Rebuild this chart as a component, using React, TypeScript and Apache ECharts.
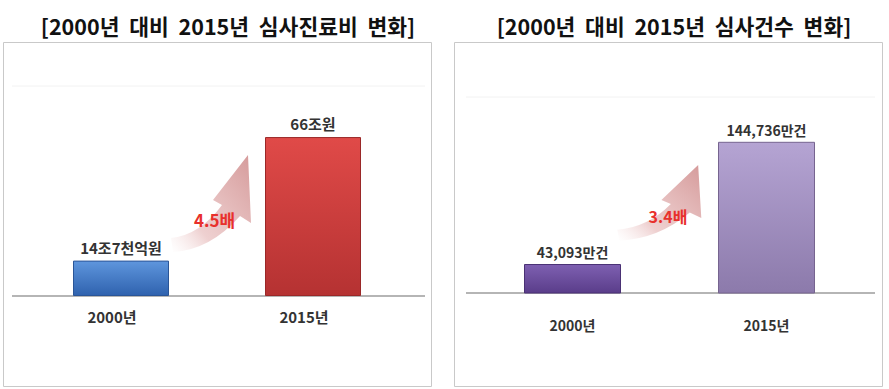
import React, { useEffect, useRef } from "react";
import * as echarts from "echarts";

const years = ["2000년", "2015년"];
const costValues = [14.7, 66]; // 조원
const costLabels = ["14조7천억원", "66조원"];
const countValues = [43093, 144736]; // 만건
const countLabels = ["43,093만건", "144,736만건"];
const titles = [
  "[2000년  대비  2015년  심사진료비  변화]",
  "[2000년  대비  2015년  심사건수  변화]",
];
const ratioLabels = ["4.5배", "3.4배"];

const FONT = '"Noto Sans CJK KR", "Noto Sans", sans-serif';

const ARROW_D =
  "M83 0 L86 68 L75 61 Q45 95 8 97 L6 83 Q35 80 57 50 L48 45 Z";

let registered = false;
function ensureShape() {
  if (registered) return;
  echarts.graphic.registerShape("arrowShape", echarts.graphic.extendPath(ARROW_D, {}) as any);
  registered = true;
}

function grad(top: string, bottom: string) {
  return new echarts.graphic.LinearGradient(0, 0, 0, 1, [
    { offset: 0, color: top },
    { offset: 1, color: bottom },
  ]);
}

function arrowFill() {
  return new echarts.graphic.LinearGradient(0, 1, 1, 0, [
    { offset: 0, color: "rgba(245,225,225,0)" },
    { offset: 0.3, color: "rgba(234,196,196,0.8)" },
    { offset: 1, color: "#d59a9a" },
  ]);
}

export default function App() {
  const ref = useRef<HTMLDivElement>(null);
  useEffect(() => {
    if (!ref.current) return;
    ensureShape();
    const chart = echarts.init(ref.current, undefined, { renderer: "svg" });
    const leftColors = [
      { color: grad("#5e96dd", "#2f62ae"), borderColor: "#2a5597" },
      { color: grad("#e04a48", "#b53232"), borderColor: "#9a2828" },
    ];
    const rightColors = [
      { color: grad("#7e60b1", "#5a3d8a"), borderColor: "#4a3174" },
      { color: grad("#b5a4d3", "#8c7aab"), borderColor: "#76648f" },
    ];
    chart.setOption({
      animation: false,
      backgroundColor: "#ffffff",
      title: [
        {
          text: titles[0],
          left: 223,
          top: 10,
          textAlign: "center",
          textStyle: { fontFamily: FONT, fontSize: 21.5, fontWeight: "bold", color: "#111" },
        },
        {
          text: titles[1],
          left: 669,
          top: 10,
          textAlign: "center",
          textStyle: { fontFamily: FONT, fontSize: 21.5, fontWeight: "bold", color: "#111" },
        },
      ],
      grid: [
        { left: 25, width: 384, top: 86, bottom: 93 },
        { left: 475.5, width: 388, top: 97, bottom: 96 },
      ],
      xAxis: [
        {
          type: "category",
          gridIndex: 0,
          data: years,
          axisLine: { show: false },
          axisTick: { show: false },
          axisLabel: {
            margin: 13,
            padding: [0, 18, 0, 0],
            fontFamily: FONT,
            fontSize: 15,
            fontWeight: "bold",
            color: "#333",
          },
        },
        {
          type: "category",
          gridIndex: 1,
          data: years,
          axisLine: { show: false },
          axisTick: { show: false },
          axisLabel: {
            margin: 25,
            fontFamily: FONT,
            fontSize: 14,
            fontWeight: "bold",
            color: "#333",
          },
        },
      ],
      yAxis: [
        { type: "value", gridIndex: 0, min: 0, max: 87.2, show: false, splitLine: { show: false } },
        { type: "value", gridIndex: 1, min: 19000, max: 182000, show: false, splitLine: { show: false } },
      ],
      series: [
        {
          type: "bar",
          xAxisIndex: 0,
          yAxisIndex: 0,
          barWidth: 96,
          data: costValues.map((v, i) => ({
            value: v,
            itemStyle: { ...leftColors[i], borderWidth: 1 },
          })),
          label: {
            show: true,
            position: "top",
            distance: 6,
            formatter: (p: any) => costLabels[p.dataIndex],
            fontFamily: FONT,
            fontSize: 15,
            fontWeight: "bold",
            color: "#333",
          },
          z: 3,
        },
        {
          type: "bar",
          xAxisIndex: 1,
          yAxisIndex: 1,
          barWidth: 97,
          data: countValues.map((v, i) => ({
            value: v,
            itemStyle: { ...rightColors[i], borderWidth: 1 },
          })),
          label: {
            show: true,
            position: "top",
            distance: 5,
            formatter: (p: any) => countLabels[p.dataIndex],
            fontFamily: FONT,
            fontSize: 14,
            fontWeight: "bold",
            color: "#333",
          },
          z: 3,
        },
      ],
      graphic: [
        {
          type: "rect",
          shape: { x: 3.5, y: 42.5, width: 428, height: 344 },
          style: { fill: "none", stroke: "#c9c9c9", lineWidth: 1 },
          z: 0,
        },
        {
          type: "rect",
          shape: { x: 454.5, y: 42.5, width: 428, height: 344 },
          style: { fill: "none", stroke: "#c9c9c9", lineWidth: 1 },
          z: 0,
        },
        {
          type: "line",
          shape: { x1: 12, y1: 86, x2: 425, y2: 86 },
          style: { stroke: "#f2f2f2", lineWidth: 1 },
          z: 0,
        },
        {
          type: "line",
          shape: { x1: 466, y1: 97, x2: 875, y2: 97 },
          style: { stroke: "#f2f2f2", lineWidth: 1 },
          z: 0,
        },
        {
          type: "line",
          shape: { x1: 12, y1: 296, x2: 425, y2: 296 },
          style: { stroke: "#b5b5b5", lineWidth: 2 },
          z: 1,
        },
        {
          type: "line",
          shape: { x1: 466, y1: 293, x2: 875, y2: 293 },
          style: { stroke: "#b5b5b5", lineWidth: 2 },
          z: 1,
        },
        {
          type: "arrowShape",
          x: 165,
          y: 155,
          scaleX: 1,
          scaleY: 1,
          style: { fill: arrowFill(), stroke: "none" },
          z: 1,
        },
        {
          type: "arrowShape",
          x: 611,
          y: 165,
          scaleX: 1.05,
          scaleY: 0.78,
          style: { fill: arrowFill(), stroke: "none" },
          z: 1,
        },
        {
          type: "text",
          x: 214.5,
          y: 219.5,
          style: {
            text: ratioLabels[0],
            textAlign: "center",
            textVerticalAlign: "middle",
            fontFamily: FONT,
            fontSize: 17,
            fontWeight: "bold",
            fill: "#e8302c",
          },
          z: 5,
        },
        {
          type: "text",
          x: 668,
          y: 216,
          style: {
            text: ratioLabels[1],
            textAlign: "center",
            textVerticalAlign: "middle",
            fontFamily: FONT,
            fontSize: 16,
            fontWeight: "bold",
            fill: "#e8302c",
          },
          z: 5,
        },
      ],
    });
    return () => chart.dispose();
  }, []);
  return (
    <div
      ref={ref}
      style={{ position: "absolute", left: 0, top: 0, width: 889, height: 389, background: "#fff" }}
    />
  );
}
